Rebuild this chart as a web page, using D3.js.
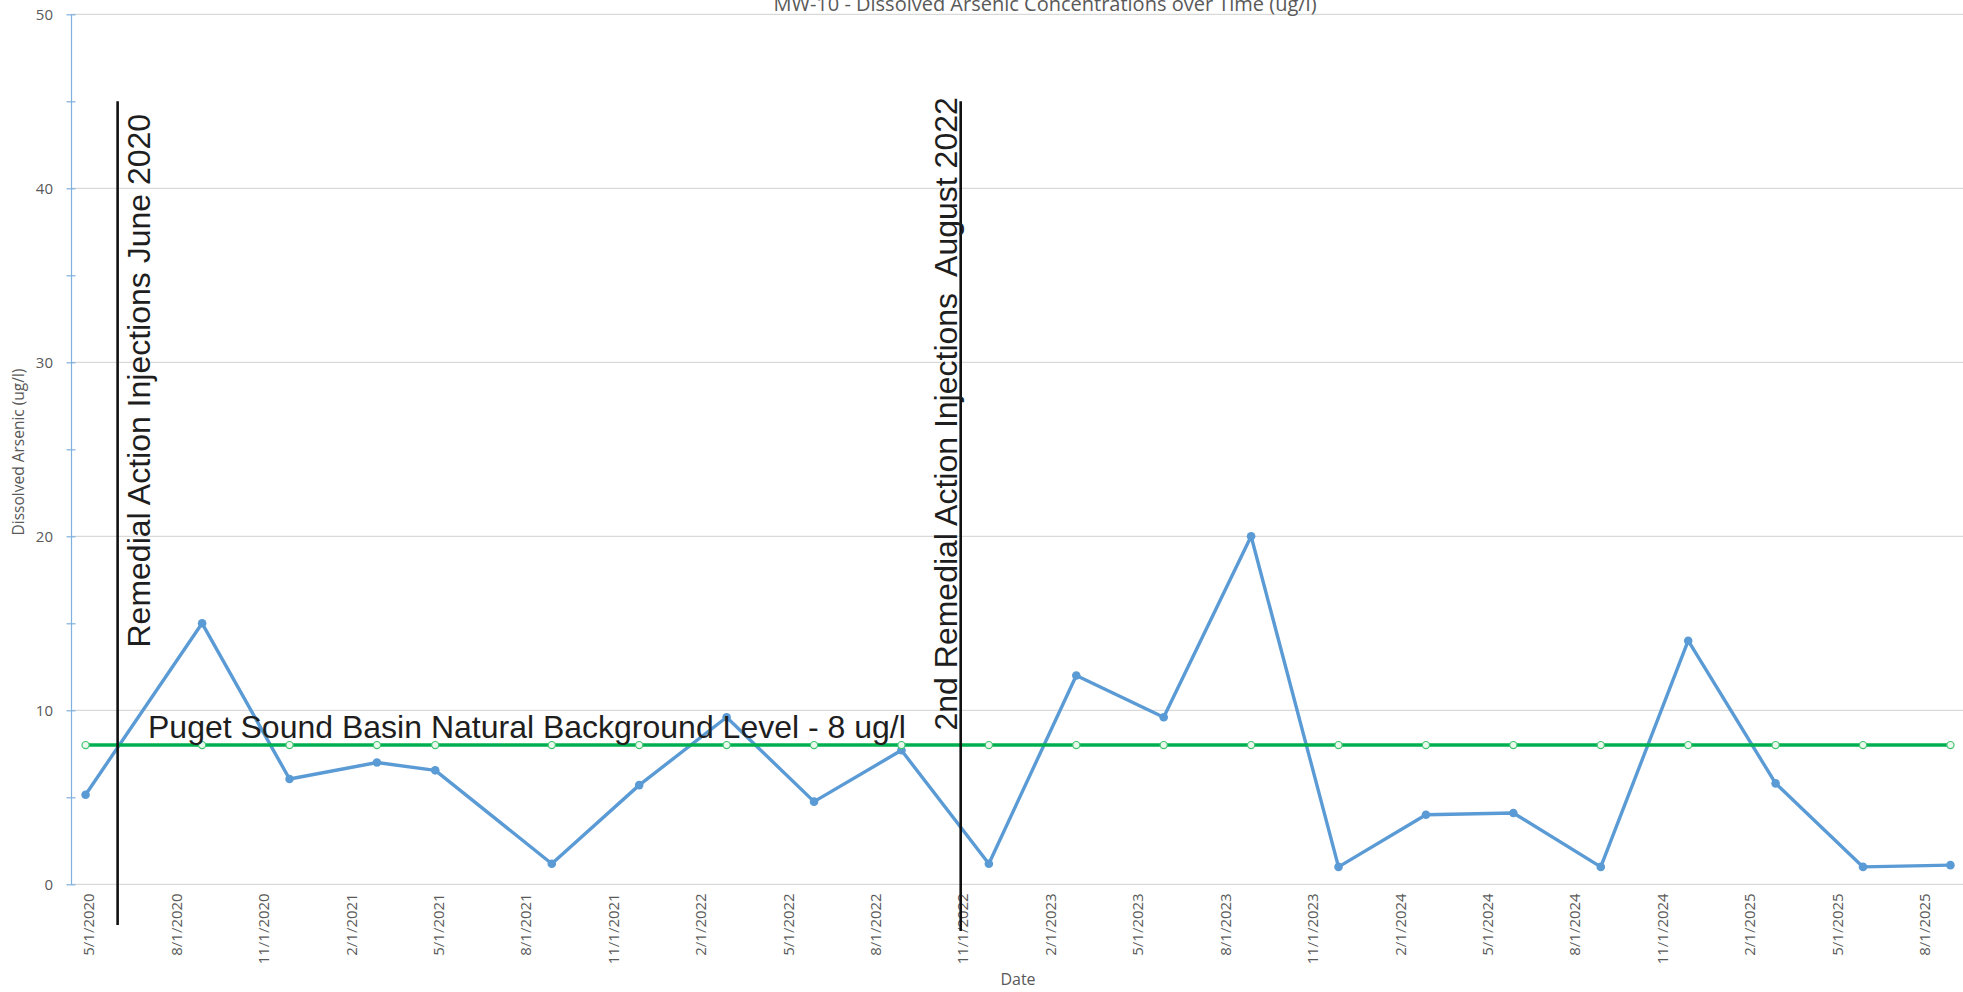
<!DOCTYPE html>
<html lang="en">
<head>
  <meta charset="UTF-8">
  <title>MW-10 Dissolved Arsenic</title>
  <script src="https://d3js.org/d3.v7.min.js"></script>
  <style>
    html, body { margin: 0; padding: 0; background: #fff; }
    svg { display: block; }
    .tick text { font-family: "Open Sans", sans-serif; font-size: 15px; fill: #595959; }
    .note { font-family: "Liberation Sans", Arial, sans-serif; font-size: 32px; fill: #1e1e1e; white-space: pre; }
  </style>
</head>
<body>
  <svg width="1963" height="992"></svg>

  <script>
    // sample months and dissolved arsenic (ug/l)
    const sampleMonths = ["2020-05", "2020-09", "2020-12", "2021-03", "2021-05", "2021-09",
      "2021-12", "2022-03", "2022-06", "2022-09", "2022-12", "2023-03", "2023-06", "2023-09",
      "2023-12", "2024-03", "2024-06", "2024-09", "2024-12", "2025-03", "2025-06", "2025-09"];
    const arsenic = [5.15, 15, 6.05, 7.0, 6.55, 1.18, 5.7, 9.6, 4.75, 7.7, 1.18, 12,
      9.6, 20, 1.0, 4.0, 4.1, 1.0, 14, 5.8, 1.0, 1.1];
    const background = [8, 8, 8, 8, 8, 8, 8, 8, 8, 8, 8, 8, 8, 8, 8, 8, 8, 8, 8, 8, 8, 8];

    // x axis labels (every 3 months)
    const tickMonths = ["2020-05", "2020-08", "2020-11", "2021-02", "2021-05", "2021-08",
      "2021-11", "2022-02", "2022-05", "2022-08", "2022-11", "2023-02", "2023-05", "2023-08",
      "2023-11", "2024-02", "2024-05", "2024-08", "2024-11", "2025-02", "2025-05", "2025-08"];
    const tickLabels = ["5/1/2020", "8/1/2020", "11/1/2020", "2/1/2021", "5/1/2021", "8/1/2021",
      "11/1/2021", "2/1/2022", "5/1/2022", "8/1/2022", "11/1/2022", "2/1/2023", "5/1/2023", "8/1/2023",
      "11/1/2023", "2/1/2024", "5/1/2024", "8/1/2024", "11/1/2024", "2/1/2025", "5/1/2025", "8/1/2025"];
    const yTicks = [0, 5, 10, 15, 20, 25, 30, 35, 40, 45, 50];

    const eventDates = ["2020-06-19", "2022-11-17"];
    const eventLabels = ["Remedial Action Injections June 2020", "2nd Remedial Action Injections  August 2022"];
    const bgLabel = "Puget Sound Basin Natural Background Level - 8 ug/l";

    const svg = d3.select("svg");
    const W = 1963;

    // month index from May 2020 (date axis with month base unit)
    function monthIdx(s) {
      const p = s.split("-").map(Number);
      let m = (p[0] - 2020) * 12 + (p[1] - 5);
      if (p.length > 2) m += (p[2] - 1) / new Date(p[0], p[1], 0).getDate();
      return m;
    }

    const x = d3.scaleLinear().domain([0, 65]).range([71, 1965]);
    const y = d3.scaleLinear().domain([0, 50]).range([884.3, 14.3]);

    // gridlines
    svg.append("g")
      .selectAll("line")
      .data(yTicks.filter(d => d % 10 === 0))
      .join("line")
        .attr("x1", x(0)).attr("x2", W)
        .attr("y1", d => y(d)).attr("y2", d => y(d))
        .attr("stroke", "#d9d9d9").attr("stroke-width", 1.3);

    // y axis
    const yAxis = svg.append("g")
      .attr("transform", `translate(${x(0)},0)`)
      .call(d3.axisLeft(y).tickValues(yTicks)
        .tickFormat(d => d % 10 === 0 ? d : "")
        .tickSizeInner(4.5).tickSizeOuter(0).tickPadding(13.5));
    yAxis.select(".domain").attr("stroke", "#7fb0de").attr("stroke-width", 1.2);
    yAxis.selectAll(".tick line").attr("x2", 4.5).attr("x1", -4.5).attr("stroke", "#7fb0de").attr("stroke-width", 1.2);
    yAxis.selectAll(".tick text").attr("font-family", null).attr("font-size", null);

    // x axis labels
    const xAxis = svg.append("g")
      .attr("transform", `translate(0,${y(0)})`)
      .call(d3.axisBottom(x)
        .tickValues(tickMonths.map(m => monthIdx(m) + 0.5))
        .tickFormat((d, i) => tickLabels[i])
        .tickSize(0));
    xAxis.select(".domain").remove();
    xAxis.selectAll(".tick text")
      .attr("font-family", null).attr("font-size", null)
      .attr("transform", "rotate(-90)")
      .attr("text-anchor", "end")
      .attr("x", -9).attr("y", 3).attr("dy", "0.35em");

    // axis titles
    svg.append("text")
      .attr("transform", "translate(24,452) rotate(-90)")
      .attr("text-anchor", "middle")
      .attr("font-family", "Open Sans, sans-serif").attr("font-size", 15.5).attr("fill", "#595959")
      .text("Dissolved Arsenic (ug/l)");
    svg.append("text")
      .attr("x", 1018).attr("y", 985)
      .attr("text-anchor", "middle")
      .attr("font-family", "Open Sans, sans-serif").attr("font-size", 16).attr("fill", "#595959")
      .text("Date");
    svg.append("text")
      .attr("x", 1045).attr("y", 11)
      .attr("text-anchor", "middle")
      .attr("font-family", "Open Sans, sans-serif").attr("font-size", 20).attr("fill", "#595959")
      .text("MW-10 - Dissolved Arsenic Concentrations over Time (ug/l)");

    const px = i => x(monthIdx(sampleMonths[i]) + 0.5);

    // arsenic series
    const line = d3.line().x((d, i) => px(i)).y(d => y(d));
    svg.append("path")
      .datum(arsenic)
      .attr("d", line)
      .attr("fill", "none").attr("stroke", "#5b9bd5")
      .attr("stroke-width", 3.4).attr("stroke-linejoin", "round");
    svg.append("g")
      .selectAll("circle")
      .data(arsenic)
      .join("circle")
        .attr("cx", (d, i) => px(i)).attr("cy", d => y(d))
        .attr("r", 4.3).attr("fill", "#5b9bd5");

    // background level series
    svg.append("path")
      .datum(background)
      .attr("d", line)
      .attr("fill", "none").attr("stroke", "#00b050").attr("stroke-width", 3.5);
    svg.append("g")
      .selectAll("circle")
      .data(background)
      .join("circle")
        .attr("cx", (d, i) => px(i)).attr("cy", d => y(d))
        .attr("r", 3.6).attr("fill", "#eaf8ee")
        .attr("stroke", "#3fc46c").attr("stroke-width", 1.2);

    // remedial action event lines
    const eventBottoms = [925, 931];
    svg.append("g")
      .selectAll("line")
      .data(eventDates)
      .join("line")
        .attr("x1", d => x(monthIdx(d))).attr("x2", d => x(monthIdx(d)))
        .attr("y1", y(45)).attr("y2", (d, i) => eventBottoms[i])
        .attr("stroke", "#111").attr("stroke-width", 2.6);

    svg.append("text").attr("class", "note")
      .attr("transform", "translate(149.5,647.5) rotate(-90)")
      .text(eventLabels[0]);
    svg.append("text").attr("class", "note")
      .attr("transform", "translate(957,730.5) rotate(-90)")
      .text(eventLabels[1]);
    svg.append("text").attr("class", "note")
      .attr("x", 148).attr("y", 737.5)
      .text(bgLabel);
  </script>
</body>
</html>
